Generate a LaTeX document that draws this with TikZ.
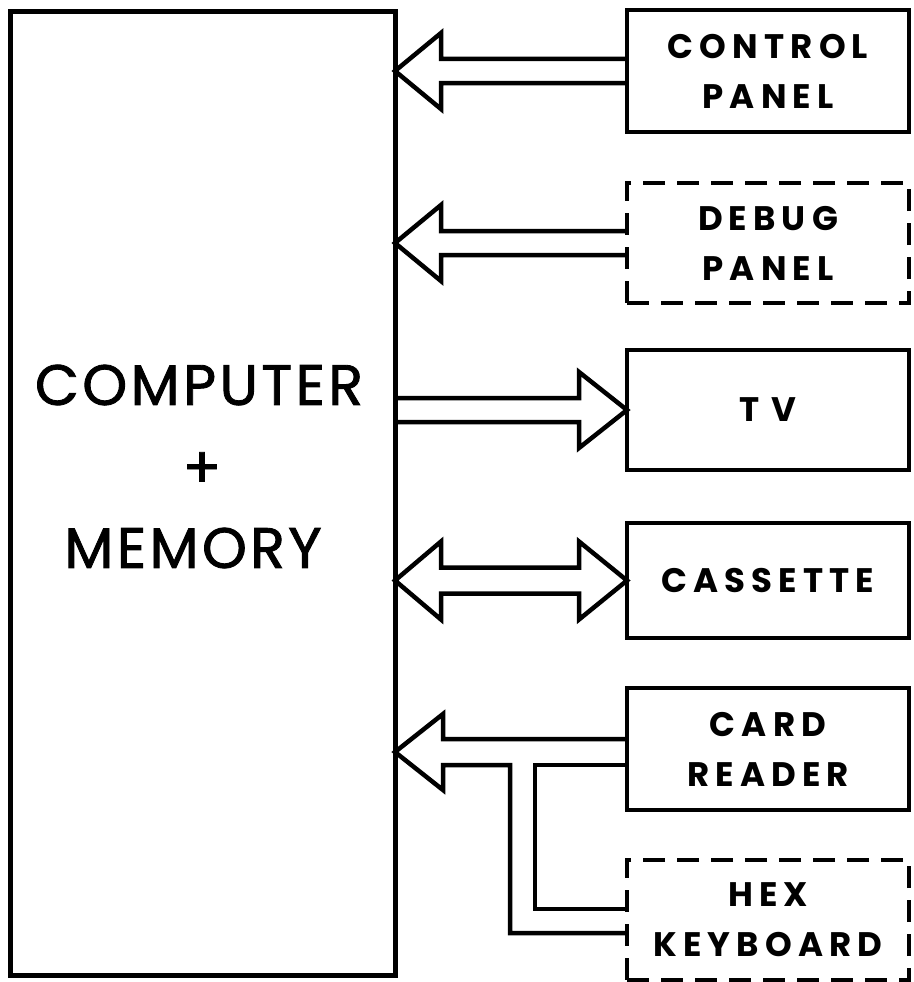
\documentclass[tikz,border=0pt]{standalone}
\usepackage{fontspec}
\setmainfont{Poppins}
\newfontfamily\handsmall[LetterSpace=18]{Poppins}
\newfontfamily\handbig[LetterSpace=6,FakeBold=1.5]{Poppins}
\usetikzlibrary{calc}
\begin{document}
\begin{tikzpicture}[x=1pt,y=-1pt,
  box/.style={draw, line width=4.5pt, minimum width=282pt, inner sep=0pt, outer sep=0pt,
    align=center, font=\handsmall\bfseries\fontsize{34}{50}\selectfont},
  dbox/.style={box, dash pattern=on 22pt off 12pt},
  bus/.style={line width=4.5pt, line join=miter},
  bigtxt/.style={inner sep=0pt, font=\handbig\fontsize{57}{60}\selectfont}]
\useasboundingbox (0,0) rectangle (913,982);
% main block
\node[draw, line width=5pt, minimum width=385pt, minimum height=963pt, inner sep=0pt, outer sep=0pt] (comp) at (202.5,493.5) {};
\node[bigtxt] (t1) at (199,385) {COMPUTER};
\node[bigtxt] (t2) at (202,470) {+};
\node[bigtxt] (t3) at (193,548) {MEMORY};
% peripherals
\node[box, minimum height=122pt] (cp) at (768,71) {CONTROL\\PANEL};
\node[dbox, minimum height=120pt] (dp) at (768,243) {DEBUG\\PANEL};
\node[box, minimum height=120pt] (tv) at (768,410) {T\,\,V};
\node[box, minimum height=115pt] (cs) at (768,580.5) {CASSETTE};
\node[box, minimum height=122pt] (cr) at (768,749) {CARD\\READER};
\node[dbox, minimum height=120pt] (hk) at (768,920) {HEX\\KEYBOARD};
% control panel -> computer
\draw[bus] ($(cp.west)+(0,-12)$) -- ($(comp.east|-cp.west)+(46,-12)$) -- ++(0,-26)
  -- (comp.east|-cp.west) -- ($(comp.east|-cp.west)+(46,38)$) -- ++(0,-26) -- ($(cp.west)+(0,12)$);
% debug panel -> computer
\draw[bus] ($(dp.west)+(0,-12)$) -- ($(comp.east|-dp.west)+(46,-12)$) -- ++(0,-26)
  -- (comp.east|-dp.west) -- ($(comp.east|-dp.west)+(46,38)$) -- ++(0,-26) -- ($(dp.west)+(0,12)$);
% computer -> tv
\draw[bus] ($(comp.east|-tv.west)+(0,-12)$) -- ($(tv.west)+(-48,-12)$) -- ++(0,-26)
  -- (tv.west) -- ($(tv.west)+(-48,38)$) -- ++(0,-26) -- ($(comp.east|-tv.west)+(0,12)$);
% computer <-> cassette
\draw[bus] ($(cs.west)+(-48,-13)$) -- ($(comp.east|-cs.west)+(46,-13)$) -- ++(0,-26)
  -- (comp.east|-cs.west) -- ($(comp.east|-cs.west)+(46,39)$) -- ++(0,-26)
  -- ($(cs.west)+(-48,13)$) -- ++(0,26) -- (cs.west) -- ($(cs.west)+(-48,-39)$) -- cycle;
% card reader + hex keyboard -> computer
\coordinate (crt) at ($(comp.east|-cr.west)+(0,3)$);
\draw[bus] ($(cr.west)+(0,-10)$) -- ($(crt)+(48,-13)$) -- ++(0,-25)
  -- (crt) -- ($(crt)+(48,38)$) -- ++(0,-25) -- ($(crt)+(115,13)$)
  -- ($(hk.west)+(-117,13)$) -- ($(hk.west)+(0,13)$);
\draw[bus] ($(cr.west)+(0,16)$) -- ($(cr.west)+(-92,16)$) -- ($(hk.west)+(-92,-11)$) -- ($(hk.west)+(0,-11)$);
\end{tikzpicture}
\end{document}
